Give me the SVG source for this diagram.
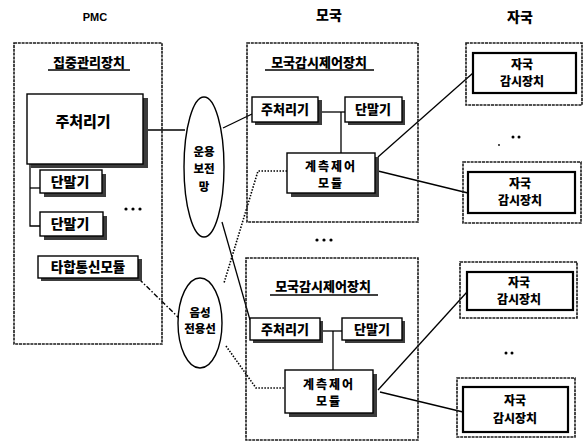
<svg xmlns="http://www.w3.org/2000/svg" width="584" height="443" viewBox="0 0 584 443">
<style>
.outer{fill:none;stroke:#1a1a1a;stroke-width:1.6;stroke-dasharray:3 0.8}
.box{fill:#fff;stroke:#000;stroke-width:1.4}
.sh{fill:#3c3c3c}
.inner{fill:#fff;stroke:#000;stroke-width:2.2}
.t{font-family:"Noto Sans CJK KR","Noto Sans",sans-serif;font-weight:900;text-anchor:middle;fill:#000}
.hd{font-family:"Liberation Sans","Noto Sans CJK KR",sans-serif;font-weight:bold;text-anchor:middle;fill:#000}
.ln{fill:none;stroke:#000;stroke-width:1.3}
.dot{fill:none;stroke:#000;stroke-width:1.6;stroke-dasharray:1.5 1.5}
.dd{fill:none;stroke:#000;stroke-width:1.4;stroke-dasharray:5 2 1.5 2}
.ul{stroke:#000;stroke-width:1.4}
</style>
<g id="headers">
<text class="hd" x="95" y="21" font-size="11">PMC</text>
<text class="t" x="329" y="20" font-size="14">모국</text>
<text class="t" x="520" y="22" font-size="14">자국</text>
</g>
<g id="connectors">
<line class="ln" x1="146" y1="130" x2="185" y2="130"/>
<line class="ln" x1="223" y1="128" x2="252" y2="114"/>
<line class="ln" x1="222" y1="222" x2="250" y2="320"/>
<polyline class="dot" points="287,171 258,171 224,283"/>
<polyline class="dot" points="226,346 256,388 285,388"/>
<line class="dd" x1="139" y1="279" x2="179" y2="318"/>
<polyline class="ln" points="30,164 30,226 40,226"/>
<line class="ln" x1="30" y1="188" x2="40" y2="188"/>
<line class="ln" x1="321" y1="112" x2="345" y2="112"/>
<line class="ln" x1="341" y1="112" x2="341" y2="153"/>
<line class="ln" x1="323" y1="331" x2="342" y2="331"/>
<line class="ln" x1="333" y1="331" x2="333" y2="370"/>
<line class="ln" x1="378" y1="157" x2="473" y2="73"/>
<line class="ln" x1="378" y1="171" x2="468" y2="193"/>
<line class="ln" x1="378" y1="390" x2="467" y2="292"/>
<line class="ln" x1="380" y1="392" x2="463" y2="412"/>
</g>
<g id="pmc">
<rect class="outer" x="14" y="43" width="148" height="301"/>
<text class="t" x="89" y="67" font-size="13">집중관리장치</text>
<line class="ul" x1="48" y1="70" x2="130" y2="70"/>
</g>
<g id="pmc-main">
<rect class="sh" x="31" y="98" width="117" height="70"/>
<rect class="box" x="27" y="94" width="116" height="70"/>
<text class="t" x="83" y="127" font-size="15">주처리기</text>
</g>
<g id="pmc-term1">
<rect class="sh" x="44" y="174" width="62" height="23"/>
<rect class="box" x="40" y="170" width="62" height="23"/>
<text class="t" x="70" y="187" font-size="14">단말기</text>
</g>
<g id="pmc-term2">
<rect class="sh" x="44" y="216" width="63" height="24"/>
<rect class="box" x="40" y="212" width="63" height="24"/>
<text class="t" x="70" y="229" font-size="14">단말기</text>
</g>
<g id="pmc-dots">
<circle cx="126" cy="209" r="1.6"/><circle cx="133" cy="209" r="1.6"/><circle cx="140" cy="209" r="1.6"/>
</g>
<g id="pmc-comm">
<rect class="sh" x="41" y="259" width="101" height="22"/>
<rect class="box" x="38" y="256" width="100" height="22"/>
<text class="t" x="88" y="272" font-size="13.5">타합통신모듈</text>
</g>
<g id="net-ops">
<ellipse class="box" cx="204" cy="167" rx="20" ry="70" stroke-width="1.6"/>
<text class="t" x="204" y="156" font-size="11.5">운용</text>
<text class="t" x="204" y="173" font-size="11.5">보전</text>
<text class="t" x="204" y="191" font-size="11.5">망</text>
</g>
<g id="net-voice">
<ellipse class="box" cx="200" cy="323" rx="22" ry="45" stroke-width="1.6"/>
<text class="t" x="200" y="317" font-size="11.5">음성</text>
<text class="t" x="200" y="333" font-size="11.5">전용선</text>
</g>
<g id="master1">
<rect class="outer" x="247" y="43" width="171" height="179"/>
<text class="t" x="319" y="67" font-size="13">모국감시제어장치</text>
<line class="ul" x1="265" y1="70" x2="374" y2="70"/>
</g>
<g id="master1-main">
<rect class="sh" x="255" y="100" width="67" height="25"/>
<rect class="box" x="252" y="97" width="66" height="25"/>
<text class="t" x="285" y="114" font-size="13">주처리기</text>
</g>
<g id="master1-term">
<rect class="sh" x="348" y="100" width="57" height="25"/>
<rect class="box" x="345" y="97" width="57" height="25"/>
<text class="t" x="373" y="114" font-size="13">단말기</text>
</g>
<g id="master1-ctrl">
<rect class="sh" x="291" y="157" width="88" height="40"/>
<rect class="box" x="287" y="153" width="88" height="40"/>
<text class="t" x="331" y="171" font-size="12" letter-spacing="2">계측제어</text>
<text class="t" x="331" y="188" font-size="12" letter-spacing="2">모듈</text>
</g>
<g id="master-dots">
<circle cx="317" cy="240" r="1.6"/><circle cx="324" cy="240" r="1.6"/><circle cx="331" cy="240" r="1.6"/>
</g>
<g id="master2">
<rect class="outer" x="246" y="258" width="172" height="182"/>
<text class="t" x="323" y="291" font-size="13">모국감시제어장치</text>
<line class="ul" x1="270" y1="295" x2="378" y2="295"/>
</g>
<g id="master2-main">
<rect class="sh" x="253" y="321" width="70" height="22"/>
<rect class="box" x="250" y="318" width="70" height="22"/>
<text class="t" x="285" y="334" font-size="13">주처리기</text>
</g>
<g id="master2-term">
<rect class="sh" x="345" y="321" width="60" height="22"/>
<rect class="box" x="342" y="318" width="60" height="22"/>
<text class="t" x="372" y="334" font-size="13">단말기</text>
</g>
<g id="master2-ctrl">
<rect class="sh" x="289" y="374" width="88" height="43"/>
<rect class="box" x="285" y="370" width="88" height="43"/>
<text class="t" x="329" y="389" font-size="12" letter-spacing="2">계측제어</text>
<text class="t" x="329" y="406" font-size="12" letter-spacing="2">모듈</text>
</g>
<g id="slave1">
<rect class="outer" x="466" y="43" width="116" height="62"/>
<rect class="inner" x="473" y="53" width="103" height="40"/>
<text class="t" x="522" y="69" font-size="12">자국</text>
<text class="t" x="522" y="86" font-size="12">감시장치</text>
</g>
<g id="slave-dots1">
<circle cx="513" cy="137" r="1.5"/><circle cx="519" cy="137" r="1.5"/><circle cx="499" cy="145" r="0.9"/>
</g>
<g id="slave2">
<rect class="outer" x="463" y="162" width="118" height="61"/>
<rect class="inner" x="468" y="172" width="107" height="41"/>
<text class="t" x="520" y="188" font-size="12">자국</text>
<text class="t" x="520" y="205" font-size="12">감시장치</text>
</g>
<g id="slave3">
<rect class="outer" x="460" y="262" width="117" height="56"/>
<rect class="inner" x="467" y="272" width="106" height="38"/>
<text class="t" x="519" y="287" font-size="12">자국</text>
<text class="t" x="519" y="304" font-size="12">감시장치</text>
</g>
<g id="slave-dots2">
<circle cx="506" cy="353" r="1.5"/><circle cx="512" cy="353" r="1.5"/>
</g>
<g id="slave4">
<rect class="outer" x="457" y="378" width="118" height="59"/>
<rect class="inner" x="463" y="387" width="105" height="45"/>
<text class="t" x="515" y="405" font-size="12">자국</text>
<text class="t" x="515" y="423" font-size="12">감시장치</text>
</g>
</svg>
